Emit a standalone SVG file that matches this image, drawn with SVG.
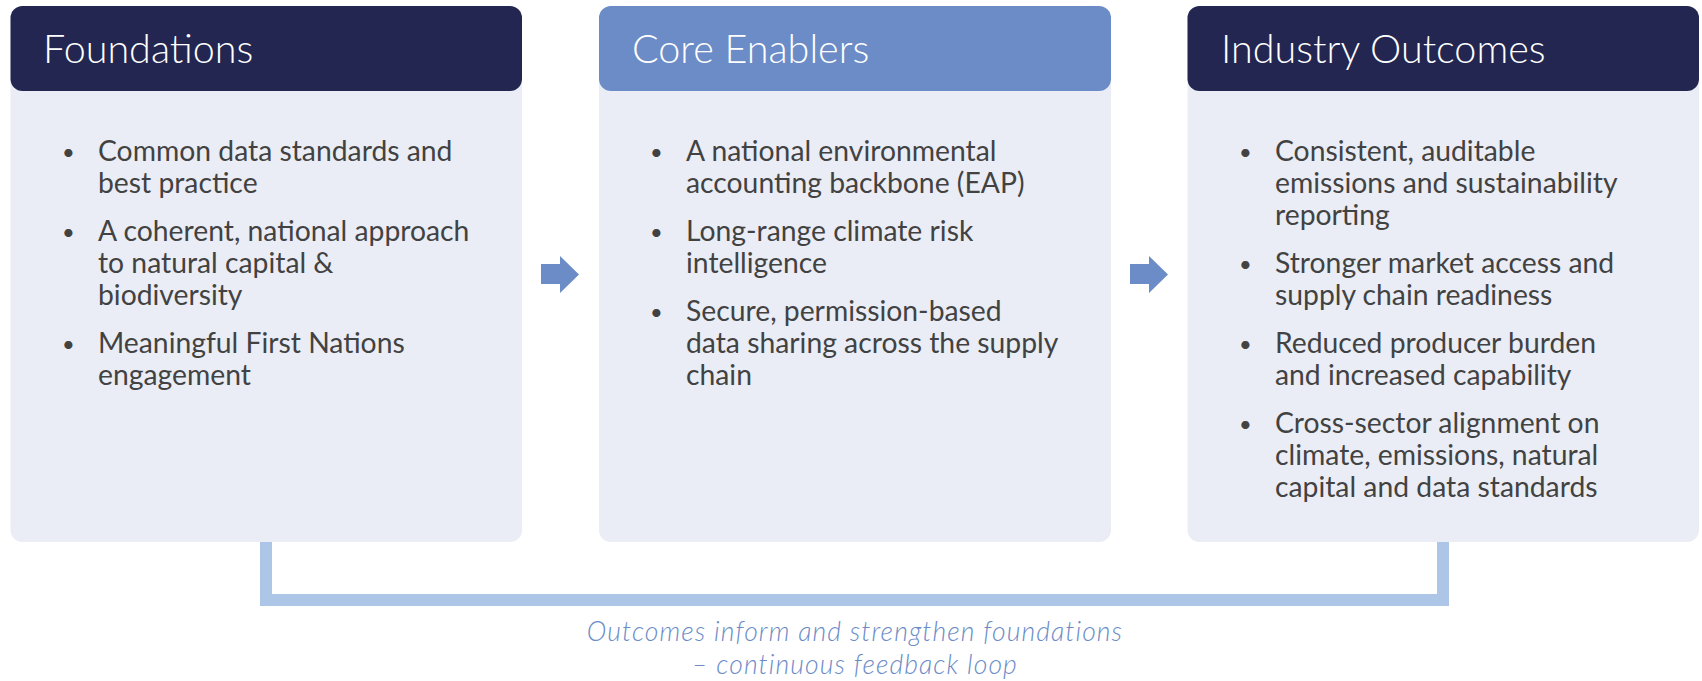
<svg xmlns="http://www.w3.org/2000/svg" width="1702" height="681" viewBox="0 0 1702 681">
<style>
.body{fill:#eaedf5}
.hdDark{fill:#232650}
.hdLight{fill:#6b8cc7}
.title{font-family:Lato,"Liberation Sans",sans-serif;font-weight:300;font-size:39.5px;fill:#ffffff}
.txt{font-family:Lato,"Liberation Sans",sans-serif;font-size:28.3px;fill:#424242}
.bul{font-size:22px}
.cap{font-family:Lato,"Liberation Sans",sans-serif;font-style:italic;font-weight:300;font-size:26.5px;letter-spacing:1.1px;fill:#6b8cc7;text-anchor:middle}
.arrow{fill:#6b8cc7}
.loop{fill:none;stroke:#adc6e8;stroke-width:12}
</style>
<g id="connectors">
<path class="loop" d="M266,542 V600 H1443 V542"/>
<polygon class="arrow" points="541,264 560,264 560,256 579,274.5 560,293 560,284 541,284"/>
<polygon class="arrow" points="1130,264 1149,264 1149,256 1168,274.5 1149,293 1149,284 1130,284"/>
<text class="cap" x="855" y="641">Outcomes inform and strengthen foundations</text>
<text class="cap" x="855" y="673.5">– continuous feedback loop</text>
</g>
<g id="foundations">
<rect class="body" x="10.5" y="6" width="511.5" height="536" rx="12"/>
<rect class="hdDark" x="10.5" y="6" width="511.5" height="85" rx="12"/>
<text class="title" x="43" y="63">Foundations</text>
<g class="txt">
<text class="bul" x="62" y="160">•</text><text x="98" y="161">Common data standards and</text>
<text x="98" y="193">best practice</text>
<text class="bul" x="62" y="240">•</text><text x="98" y="241">A coherent, national approach</text>
<text x="98" y="273">to natural capital &amp;</text>
<text x="98" y="305">biodiversity</text>
<text class="bul" x="62" y="352">•</text><text x="98" y="353">Meaningful First Nations</text>
<text x="98" y="385">engagement</text>
</g>
</g>
<g id="core-enablers">
<rect class="body" x="599" y="6" width="512" height="536" rx="12"/>
<rect class="hdLight" x="599" y="6" width="512" height="85" rx="12"/>
<text class="title" x="632" y="63">Core Enablers</text>
<g class="txt">
<text class="bul" x="650" y="160">•</text><text x="686" y="161">A national environmental</text>
<text x="686" y="193">accounting backbone (EAP)</text>
<text class="bul" x="650" y="240">•</text><text x="686" y="241">Long-range climate risk</text>
<text x="686" y="273">intelligence</text>
<text class="bul" x="650" y="320">•</text><text x="686" y="321">Secure, permission-based</text>
<text x="686" y="353">data sharing across the supply</text>
<text x="686" y="385">chain</text>
</g>
</g>
<g id="industry-outcomes">
<rect class="body" x="1187.5" y="6" width="511.5" height="536" rx="12"/>
<rect class="hdDark" x="1187.5" y="6" width="511.5" height="85" rx="12"/>
<text class="title" x="1221" y="63">Industry Outcomes</text>
<g class="txt">
<text class="bul" x="1239" y="160">•</text><text x="1275" y="161">Consistent, auditable</text>
<text x="1275" y="193">emissions and sustainability</text>
<text x="1275" y="225">reporting</text>
<text class="bul" x="1239" y="272">•</text><text x="1275" y="273">Stronger market access and</text>
<text x="1275" y="305">supply chain readiness</text>
<text class="bul" x="1239" y="352">•</text><text x="1275" y="353">Reduced producer burden</text>
<text x="1275" y="385">and increased capability</text>
<text class="bul" x="1239" y="432">•</text><text x="1275" y="433">Cross-sector alignment on</text>
<text x="1275" y="465">climate, emissions, natural</text>
<text x="1275" y="497">capital and data standards</text>
</g>
</g>
</svg>
